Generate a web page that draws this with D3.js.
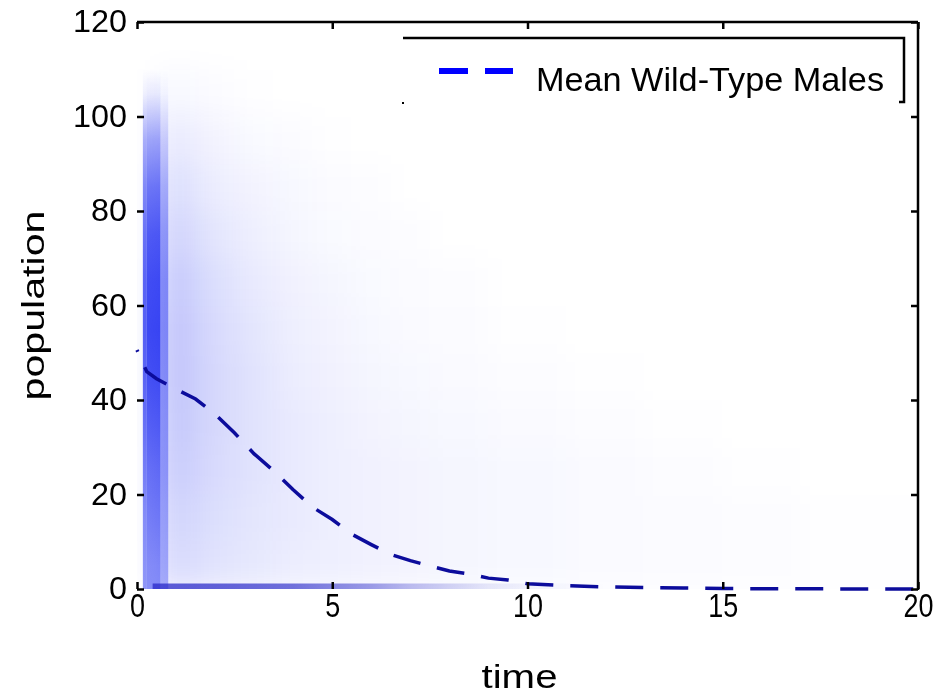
<!DOCTYPE html>
<html>
<head>
<meta charset="utf-8">
<script src="https://cdn.jsdelivr.net/npm/d3@7"></script>
<style>
  body { margin: 0; background: #fff; }
  #wrap { position: relative; width: 941px; height: 698px; }
  #density, #chart { position: absolute; left: 0; top: 0; }
  svg { display: block; font-family: "Liberation Sans", Arial, sans-serif; }
</style>
</head>
<body>
<div id="wrap">
  <canvas id="density" width="941" height="698"></canvas>
  <svg id="chart" width="941" height="698"></svg>
</div>
<script>
// mean of the wild-type males
const meanTime = [0, 0.25, 0.5, 1, 1.5, 2, 2.5, 3, 3.5, 4, 4.5, 5, 5.5, 6, 6.5, 7, 7.5, 8, 8.5, 9, 9.5, 10, 11, 12, 13, 14, 15, 16, 18, 20];
const meanPop = [50.6, 46, 44.5, 42.3, 40.2, 37, 33, 28.6, 25, 21, 17.3, 14.7, 11.6, 9.4, 7.3, 6.0, 4.9, 3.8, 3.2, 2.3, 1.9, 1.1, 0.7, 0.45, 0.3, 0.2, 0.1, 0.06, 0.02, 0];

// population bins (shared by the density layers)
const popEdges = [0, 10, 20, 30, 40, 50, 60, 70, 80, 90, 100, 110];

// broad diffuse cloud: opacity (%) per population bin (rows, bottom up) and time bin (cols)
const cloudTimeEdges = [0.5, 1.5, 2.5, 3.5, 4.5, 5.5, 6.5, 7.5, 9, 11, 13, 15, 17, 20];
const cloudAlpha = [
  [16, 12, 10, 8, 7, 6, 5, 4, 3, 2, 1.5, 1, 0.5],
  [19, 14, 11, 9, 7, 6, 5, 4, 3, 2, 1.5, 1, 0.5],
  [22, 16, 12, 9, 7, 6, 5, 4, 3, 2, 1, 0.5, 0],
  [24, 17, 12, 9, 7, 5, 4, 3, 2, 1, 0.5, 0, 0],
  [25, 17, 12, 8, 6, 4, 3, 2, 1, 0.5, 0, 0, 0],
  [25, 16, 11, 7, 5, 3, 2, 1.5, 0.5, 0, 0, 0, 0],
  [23, 14, 9, 6, 4, 2.5, 1.5, 1, 0, 0, 0, 0, 0],
  [19, 11, 7, 4, 2.5, 1.5, 1, 0, 0, 0, 0, 0, 0],
  [14, 8, 5, 3, 1.5, 1, 0, 0, 0, 0, 0, 0, 0],
  [9, 5, 2.5, 1.5, 0.5, 0, 0, 0, 0, 0, 0, 0, 0],
  [3, 1.5, 0.5, 0, 0, 0, 0, 0, 0, 0, 0, 0, 0]
];

// dense band right after t = 0: opacity (%) per time bin, population bins bottom up
const bandTimeEdges = [0.15, 0.25, 0.6, 0.8];
const bandAlpha = [
  [45, 48, 54, 60, 66, 68, 66, 60, 50, 34, 6],
  [48, 54, 60, 68, 75, 78, 76, 70, 58, 38, 8],
  [32, 34, 37, 38, 40, 42, 42, 38, 30, 18, 3]
];

// extinct runs piling up at population 0
const zeroTimes = [0.4, 2, 4, 5, 6, 7, 8, 9, 10, 12];
const zeroAlpha = [0.75, 0.72, 0.65, 0.55, 0.45, 0.3, 0.2, 0.1, 0.05, 0];

const xTicks = [0, 5, 10, 15, 20];
const yTicks = [0, 20, 40, 60, 80, 100, 120];
const legendLabel = 'Mean Wild-Type Males';

const margin = { top: 22, right: 23, bottom: 109, left: 137 };
const width = 941 - margin.left - margin.right;
const height = 698 - margin.top - margin.bottom;

const x = d3.scaleLinear().domain([0, 20]).range([0, width]);
const y = d3.scaleLinear().domain([0, 120]).range([height, 0]);

// ---------- density layers on canvas ----------
const canvas = d3.select('#density').node();
const ctx = canvas.getContext('2d');
const blueRGB = '10,25,240';

// cloud: sharp cells on an offscreen canvas, then blurred onto the main one
const off = document.createElement('canvas');
off.width = 941; off.height = 698;
const octx = off.getContext('2d');
octx.translate(margin.left, margin.top);
cloudAlpha.forEach((row, i) => {
  row.forEach((a, j) => {
    if (a <= 0) return;
    const x0 = x(cloudTimeEdges[j]), x1 = x(cloudTimeEdges[j + 1]);
    const y0 = y(popEdges[i + 1]), y1 = y(popEdges[i]);
    octx.fillStyle = `rgba(${blueRGB},${a / 100})`;
    octx.fillRect(x0, y0, x1 - x0, y1 - y0);
  });
});

ctx.save();
ctx.beginPath();
ctx.rect(margin.left, margin.top, width, height);
ctx.clip();
ctx.filter = 'blur(14px)';
ctx.drawImage(off, 0, 0);
ctx.filter = 'none';

ctx.translate(margin.left, margin.top);

// early band: one vertical gradient per time bin, stops at the bin centres
const popTop = popEdges[popEdges.length - 1];
bandAlpha.forEach((col, j) => {
  const x0 = x(bandTimeEdges[j]), x1 = x(bandTimeEdges[j + 1]);
  const grad = ctx.createLinearGradient(0, y(0), 0, y(popTop));
  col.forEach((a, i) => {
    const mid = (popEdges[i] + popEdges[i + 1]) / 2;
    grad.addColorStop(mid / popTop, `rgba(${blueRGB},${a / 100})`);
  });
  grad.addColorStop(0, `rgba(${blueRGB},${col[0] / 100})`);
  grad.addColorStop(1, `rgba(${blueRGB},0)`);
  ctx.fillStyle = grad;
  ctx.fillRect(x0, y(popTop), x1 - x0, y(0) - y(popTop));
});

// band at population 0
const zg = ctx.createLinearGradient(x(zeroTimes[0]), 0, x(zeroTimes[zeroTimes.length - 1]), 0);
const zSpan = zeroTimes[zeroTimes.length - 1] - zeroTimes[0];
zeroTimes.forEach((t, i) => {
  zg.addColorStop((t - zeroTimes[0]) / zSpan, `rgba(40,40,200,${zeroAlpha[i]})`);
});
ctx.fillStyle = zg;
ctx.fillRect(x(zeroTimes[0]), y(0) - 5.5, x(zeroTimes[zeroTimes.length - 1]) - x(zeroTimes[0]), 5.5);
ctx.restore();

// ---------- svg: mean line, axes, legend ----------
const svg = d3.select('#chart');
const g = svg.append('g').attr('transform', `translate(${margin.left},${margin.top})`);

const line = d3.line().x((d, i) => x(meanTime[i])).y(d => y(d));
g.append('path')
  .datum(meanPop)
  .attr('d', line)
  .attr('fill', 'none')
  .attr('stroke', '#0c0c9c')
  .attr('stroke-width', 3.5)
  .attr('stroke-dasharray', '28,17')
  .attr('stroke-dashoffset', 26);

// ticks pointing in on all four sides
const fontSize = 31;
const axL = g.append('g').call(d3.axisLeft(y).tickValues(yTicks).tickSize(-7).tickPadding(10));
const axB = g.append('g').attr('transform', `translate(0,${height})`)
  .call(d3.axisBottom(x).tickValues(xTicks).tickSize(-7).tickPadding(5));
const axR = g.append('g').attr('transform', `translate(${width},0)`)
  .call(d3.axisRight(y).tickValues(yTicks).tickSize(-7).tickFormat(''));
const axT = g.append('g')
  .call(d3.axisTop(x).tickValues(xTicks).tickSize(-7).tickFormat(''));

[axL, axB, axR, axT].forEach(ax => {
  ax.select('.domain').remove();
  ax.selectAll('line').attr('stroke', '#000').attr('stroke-width', 2.5);
  ax.selectAll('text').attr('fill', '#000').attr('font-size', fontSize)
    .attr('font-family', '"Liberation Sans", Arial, sans-serif');
});
axB.selectAll('text')
  .attr('font-size', 33)
  .attr('textLength', d => String(d).length * 15)
  .attr('lengthAdjust', 'spacingAndGlyphs');
axL.selectAll('text')
  .attr('textLength', d => String(d).length * 18)
  .attr('lengthAdjust', 'spacingAndGlyphs');

// top and right frame
g.append('line').attr('x1', 0).attr('x2', width).attr('y1', 0).attr('y2', 0)
  .attr('stroke', '#000').attr('stroke-width', 2.5);
g.append('line').attr('x1', width).attr('x2', width).attr('y1', 0).attr('y2', height + 1)
  .attr('stroke', '#000').attr('stroke-width', 2.5);

// axis titles
svg.append('text')
  .attr('x', margin.left + x(10) - 8)
  .attr('y', 688)
  .attr('text-anchor', 'middle')
  .attr('font-size', 33)
  .attr('textLength', 76)
  .attr('lengthAdjust', 'spacingAndGlyphs')
  .text('time');

svg.append('text')
  .attr('transform', `translate(44,${margin.top + y(60)}) rotate(-90)`)
  .attr('text-anchor', 'middle')
  .attr('font-size', 31)
  .attr('textLength', 190)
  .attr('lengthAdjust', 'spacingAndGlyphs')
  .text('population');

// legend
const legend = svg.append('g');
const lx0 = 403, lx1 = 904, ly0 = 38, ly1 = 102;
legend.append('path')
  .attr('d', `M${lx0},${ly0}H${lx1}V${ly1}H${lx1 - 5}`)
  .attr('fill', 'none').attr('stroke', '#000').attr('stroke-width', 2.5);
legend.append('rect').attr('x', lx0 - 1).attr('y', ly1).attr('width', 2).attr('height', 2).attr('fill', '#000');
legend.append('line')
  .attr('x1', 439).attr('x2', 513).attr('y1', 71).attr('y2', 71)
  .attr('stroke', '#0000ff').attr('stroke-width', 6)
  .attr('stroke-dasharray', '29,17');
legend.append('text')
  .attr('x', 536).attr('y', 91)
  .attr('font-size', 34)
  .attr('textLength', 348)
  .attr('lengthAdjust', 'spacingAndGlyphs')
  .text(legendLabel);
</script>
</body>
</html>
